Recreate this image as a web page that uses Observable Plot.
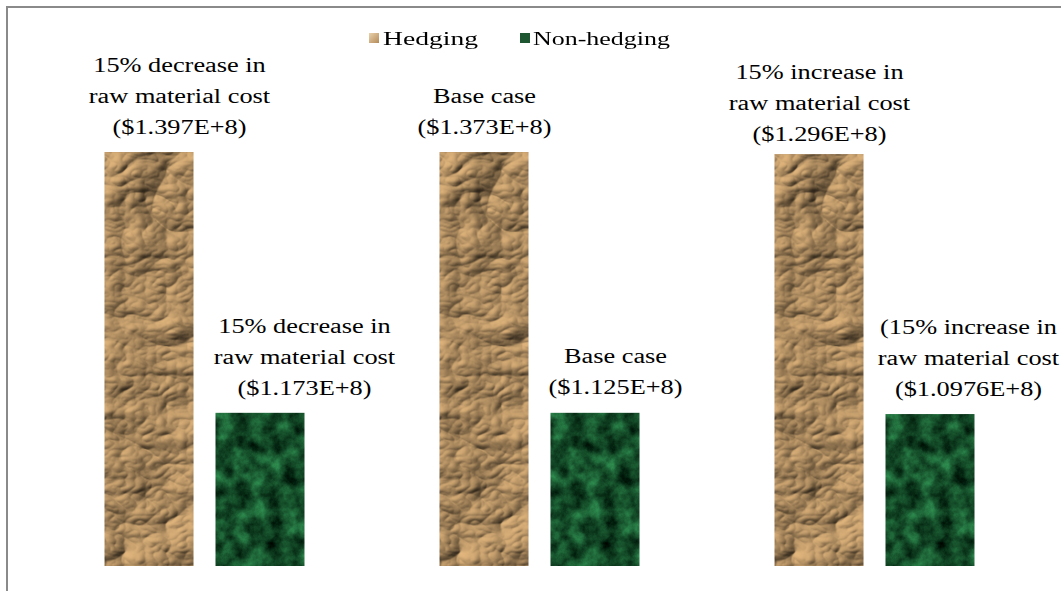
<!DOCTYPE html>
<html>
<head>
<meta charset="utf-8">
<script src="https://cdn.jsdelivr.net/npm/d3@7"></script>
<script src="https://cdn.jsdelivr.net/npm/@observablehq/plot@0.6"></script>
<style>
  html, body { margin: 0; padding: 0; background: #fff; }
  body { width: 1061px; height: 591px; position: relative; overflow: hidden; font-family: "Liberation Serif", "Times New Roman", Tinos, "DejaVu Serif Condensed", "DejaVu Serif", serif; }
  #frame { position: absolute; left: 6px; top: 6px; width: 1200px; height: 700px; border-top: 2px solid #8a8a8a; border-left: 2px solid #8a8a8a; box-sizing: border-box; }
  #legend { position: absolute; left: 0; top: 0; width: 1061px; height: 53px; }
  .item { position: absolute; top: 27px; display: block; height: 24px; }
  .sw { position: absolute; top: 6px; width: 10px; height: 10px; }
  .lt { position: absolute; top: 0; font-size: 18px; line-height: 24px; color: #000; white-space: nowrap; transform-origin: 0 50%; }
  #chart { position: absolute; left: 0; top: 53px; }
  #defs { position: absolute; width: 0; height: 0; }
</style>
</head>
<body>
<svg id="defs" width="0" height="0">
  <defs>
    <filter id="paperF" x="0" y="0" width="1" height="1" color-interpolation-filters="sRGB">
      <feTurbulence type="turbulence" baseFrequency="0.012 0.017" numOctaves="4" seed="4" result="n"/>
      <feDiffuseLighting in="n" surfaceScale="7" diffuseConstant="1" lighting-color="#e2b67d" result="l">
        <feDistantLight azimuth="225" elevation="48"/>
      </feDiffuseLighting>
      <feComposite in="l" in2="SourceGraphic" operator="in"/>
    </filter>
    <filter id="marbleF" x="0" y="0" width="1" height="1" color-interpolation-filters="sRGB">
      <feTurbulence type="fractalNoise" baseFrequency="0.06" numOctaves="5" seed="9" result="n"/>
      <feColorMatrix in="n" type="matrix" values="0.28 0 0 0 -0.06  0.7 0 0 0 -0.05  0.42 0 0 0 -0.05  0 0 0 0 1" result="c"/>
      <feComposite in="c" in2="SourceGraphic" operator="in"/>
    </filter>
  </defs>
</svg>
<div id="frame"></div>
<div id="legend"></div>
<div id="chart"></div>
<script>
// ---- data ----
const groups = ["15% decrease", "Base case", "15% increase"];
const series = ["Hedging", "Non-hedging"];
const hedgingHeight = [100, 100, 99.5];      // drawn bar heights (relative units)
const nonHedgingHeight = [37, 37, 36.7];
const hedgingLabels = [
  "15% decrease in\nraw material cost\n($1.397E+8)",
  "Base case\n($1.373E+8)",
  "15% increase in\nraw material cost\n($1.296E+8)"
];
const nonHedgingLabels = [
  "15% decrease in\nraw material cost\n($1.173E+8)",
  "Base case\n($1.125E+8)",
  "(15% increase in\nraw material cost\n($1.0976E+8)"
];
const legendColors = {"Hedging": "#d2b185", "Non-hedging": "#1d5631"};

// ---- table ----
const rows = [];
groups.forEach((g, i) => {
  rows.push({group: g, series: "Hedging", h: hedgingHeight[i], label: hedgingLabels[i]});
  rows.push({group: g, series: "Non-hedging", h: nonHedgingHeight[i], label: nonHedgingLabels[i]});
});

// label nudges (dx, dy) in the order of rows
const nudges = [[30, -19], [44, -18], [0, -19], [20, -19], [0, -14], [38, -19]];

const serif = '"Liberation Serif", "Times New Roman", Tinos, "DejaVu Serif Condensed", "DejaVu Serif", serif';
const textStyle = {fontFamily: serif, fontSize: 20, lineHeight: 1.55, fill: "#000", lineAnchor: "bottom", textAnchor: "middle"};

const marks = [
  Plot.barY(rows.filter(d => d.series === "Hedging"), {fx: "group", x: "series", y: "h", fill: "#c9a677", ariaDescription: "hedging"}),
  Plot.barY(rows.filter(d => d.series === "Non-hedging"), {fx: "group", x: "series", y: "h", fill: "#1d5631", ariaDescription: "nonhedging"})
];
rows.forEach((r, i) => {
  marks.push(Plot.text([r], {fx: "group", x: "series", y: "h", text: "label", dx: nudges[i][0], dy: nudges[i][1], ...textStyle}));
});

const chart = Plot.plot({
  width: 1061,
  height: 538,
  marginLeft: 36.5,
  marginRight: 19.5,
  marginTop: 99,
  marginBottom: 25,
  fx: {domain: groups, paddingInner: 0, paddingOuter: 0, axis: null, label: null},
  x: {domain: series, paddingInner: 0.1964, paddingOuter: 0.594, axis: null},
  y: {domain: [0, 100], axis: null},
  style: {background: "transparent", overflow: "visible"},
  marks
});
document.getElementById("chart").appendChild(chart);

// textures
chart.querySelectorAll('g[aria-description="hedging"] rect').forEach(r => r.setAttribute("filter", "url(#paperF)"));
chart.querySelectorAll('g[aria-description="nonhedging"] rect').forEach(r => r.setAttribute("filter", "url(#marbleF)"));

// horizontal fit of the serif labels: widest line "raw material cost" spans ~182px in the reference
const texts = Array.from(chart.querySelectorAll('g[aria-label="text"] text'));
let sx = 1.0;
try {
  const w = texts[0].getBBox().width;
  if (w > 0) sx = 182 / w;
} catch (e) {}
texts.forEach(t => {
  t.setAttribute("transform", (t.getAttribute("transform") || "") + ` scale(${sx},1)`);
});

// legend
const legend = document.getElementById("legend");
const legendPos = {"Hedging": 369, "Non-hedging": 520};
const legendWidth = {"Hedging": 95, "Non-hedging": 137};
series.forEach(s => {
  const it = document.createElement("div");
  it.className = "item";
  it.style.left = legendPos[s] + "px";
  const sw = document.createElement("div");
  sw.className = "sw";
  sw.style.left = "0px";
  sw.style.background = s === "Hedging"
    ? "linear-gradient(135deg, #e9d2ad, #b48a58)"
    : legendColors[s];
  const lt = document.createElement("span");
  lt.className = "lt";
  lt.style.left = (s === "Hedging" ? 14 : 13) + "px";
  lt.textContent = s;
  it.appendChild(sw);
  it.appendChild(lt);
  legend.appendChild(it);
  const w = lt.getBoundingClientRect().width;
  if (w > 0) lt.style.transform = `scaleX(${legendWidth[s] / w})`;
});
</script>
</body>
</html>
